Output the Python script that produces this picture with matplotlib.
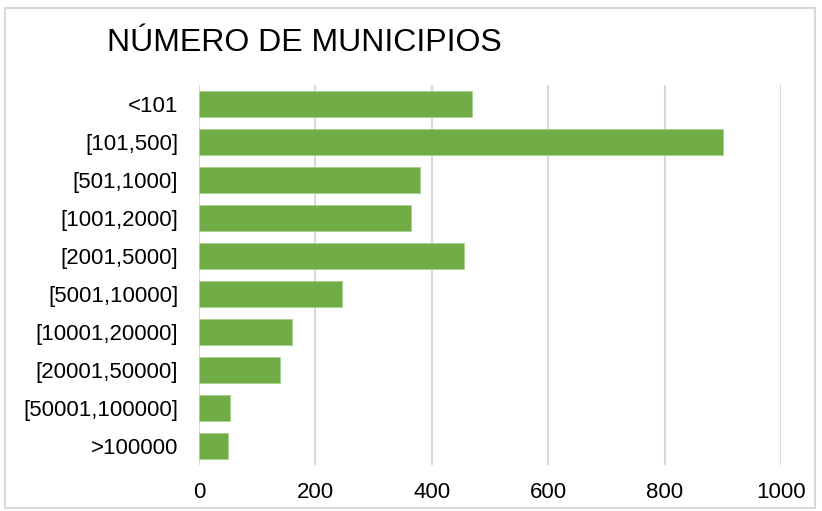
#!/usr/bin/env python3

import matplotlib
matplotlib.use("Agg")
import matplotlib.pyplot as plt
from matplotlib.patches import Rectangle

categories = ["<101", "[101,500]", "[501,1000]", "[1001,2000]", "[2001,5000]",
              "[5001,10000]", "[10001,20000]", "[20001,50000]", "[50001,100000]",
              ">100000"]
municipios = [469, 900, 379, 364, 456, 245, 160, 140, 54, 49]

plt.rcParams['font.family'] = ['Liberation Sans', 'DejaVu Sans']

fig = plt.figure(figsize=(8.22, 5.11), dpi=100)
ax = fig.add_axes([0.2421, 0.090, 0.708, 0.7436])

ypos = list(range(len(categories)))
ax.barh(ypos, municipios, height=0.68, color='#70AD47',
        edgecolor='#A9D18E', linewidth=0.6, zorder=3)

ax.set_xlim(0, 1000)
ax.set_ylim(len(categories) - 0.5, -0.5)
ax.set_xticks([0, 200, 400, 600, 800, 1000])
ax.set_yticks(ypos)
ax.set_yticklabels(categories)
ax.tick_params(axis='both', length=0, labelsize=16, colors='#000000')
ax.tick_params(axis='x', pad=12)
ax.tick_params(axis='y', pad=15)
ax.xaxis.grid(True, color='#D9D9D9', linewidth=1.5, zorder=0)
for s in ax.spines.values():
    s.set_visible(False)

fig.text(107 / 822, 1 - 43 / 511, "NÚMERO DE MUNICIPIOS", fontsize=23,
         ha='left', va='center', color='#000000')

# chart border like the excel frame
fig.patches.append(Rectangle((5 / 822, 3 / 511), 810 / 822, 500 / 511,
                             transform=fig.transFigure, fill=False,
                             edgecolor='#D9D9D9', linewidth=1.5))

fig.savefig("out.png", dpi=100)
